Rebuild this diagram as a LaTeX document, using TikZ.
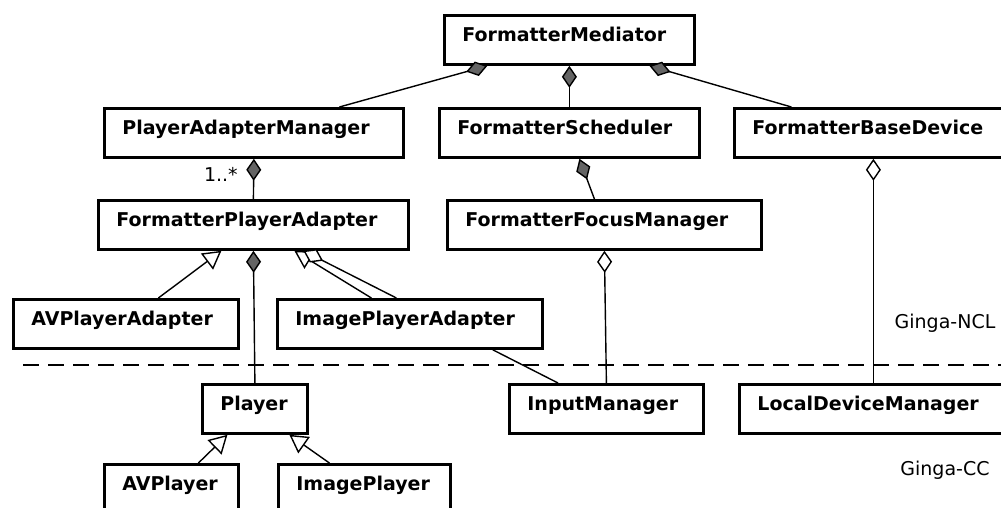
\documentclass[tikz,border=0pt]{standalone}
\usepackage{fontspec}
\setmainfont{DejaVu Sans}
\usepackage{tikz}
\usetikzlibrary{arrows.meta}
\definecolor{compgray}{RGB}{100,100,100}

\begin{document}
\begin{tikzpicture}[x=1pt,y=-1pt,
		cls/.style={draw,line width=2.8pt,fill=white,anchor=north west,align=left,
			inner xsep=18pt,inner ysep=0pt,text height=26pt,text depth=23pt,
			font=\fontsize{19}{22}\selectfont\bfseries},
		lbl/.style={font=\fontsize{19}{22}\selectfont},
		conn/.style={line width=1.4pt},
		comp/.style={conn,-{Diamond[length=22pt,width=15pt,fill=compgray]}},
		agg/.style={conn,-{Diamond[length=22pt,width=15pt,fill=white]}},
		gen/.style={conn,-{Triangle[length=18pt,width=20pt,fill=white]}}]
		\useasboundingbox (0,0) rectangle (1001,508);
		\clip (0,0) rectangle (1001,508);
		% classes
		\node[cls,text width=214pt] (fm) at (443,14) {FormatterMediator};
		\node[cls,text width=263pt] (pam) at (103,107) {PlayerAdapterManager};
		\node[cls,text width=224pt] (fs) at (438,107) {FormatterScheduler};
		\node[cls,text width=254pt] (fbd) at (733,107) {FormatterBaseDevice};
		\node[cls,text width=274pt] (fpa) at (97,199) {FormatterPlayerAdapter};
		\node[cls,text width=278pt] (ffm) at (446,199) {FormatterFocusManager};
		\node[cls,text width=189pt] (avpa) at (12,298) {AVPlayerAdapter};
		\node[cls,text width=229pt] (ipa) at (276,298) {ImagePlayerAdapter};
		\node[cls,text width=69pt] (player) at (201,383) {Player};
		\node[cls,text width=158pt] (im) at (508,383) {InputManager};
		\node[cls,text width=254pt] (ldm) at (738,383) {LocalDeviceManager};
		\node[cls,text width=98pt] (avp) at (103,463) {AVPlayer};
		\node[cls,text width=136pt] (imp) at (277,463) {ImagePlayer};
		% layers
		\draw[conn,dash pattern=on 16pt off 9pt] (23,365) -- (1010,365);
		\node[lbl] (ncl) at (945,323) {Ginga-NCL};
		\node[lbl] (cc) at (945,470) {Ginga-CC};
		% associations
		\draw[comp] ([xshift=85.5pt]pam.north) -- ([xshift=-82pt]fm.south);
		\draw[comp] (fs.north) -- (fm.south);
		\draw[comp] ([xshift=-88pt]fbd.north) -- ([xshift=80pt]fm.south);
		\draw[comp] (fpa.north) -- node[lbl,left=12pt,pos=0.62] {1..*} (pam.south);
		\draw[comp] ([xshift=-10pt]ffm.north) -- ([xshift=10pt]fs.south);
		\draw[agg] ([xshift=-11pt]ldm.north) -- ([xshift=-6pt]fbd.south);
		\draw[agg] (im.north) -- (ffm.south);
		\draw[comp] (player.north) -- (fpa.south);
		\draw[conn] ([xshift=-51pt]ipa.south east) -- ([xshift=50pt]im.north west);
		% inheritance
		\draw[gen] ([xshift=32.5pt]avpa.north) -- ([xshift=-32pt]fpa.south);
		\draw[gen] ([xshift=-38.5pt]ipa.north) -- ([xshift=41pt]fpa.south);
		\draw[agg] ([xshift=-13.5pt]ipa.north) -- ([xshift=50pt]fpa.south);
		\draw[gen] ([xshift=27pt]avp.north) -- ([xshift=-27.5pt]player.south);
		\draw[gen] ([xshift=-35pt]imp.north) -- ([xshift=34.5pt]player.south);
\end{tikzpicture}
\end{document}
